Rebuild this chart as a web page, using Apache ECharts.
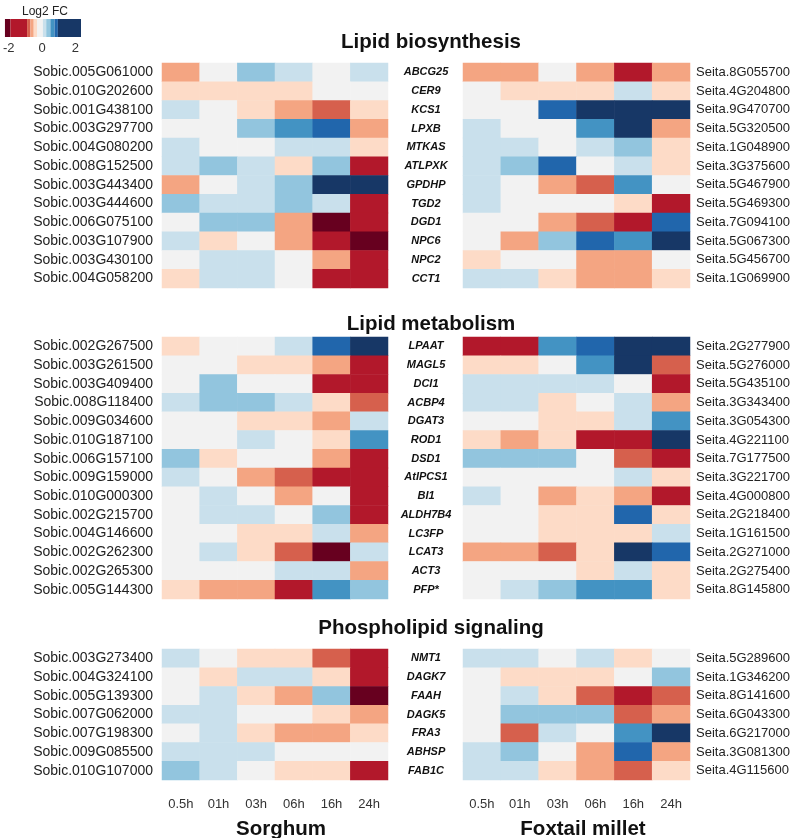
<!DOCTYPE html>
<html>
<head>
<meta charset="utf-8">
<script src="https://cdn.jsdelivr.net/npm/echarts@6/dist/echarts.min.js"></script>
<style>
  html, body { margin: 0; padding: 0; background: #fff; }
  #main { width: 800px; height: 838px; }
</style>
</head>
<body>
<div id="main"></div>
<script>
// time points
var times = ['0.5h', '01h', '03h', '06h', '16h', '24h'];

// Lipid biosynthesis
var bioSobic = ['Sobic.005G061000', 'Sobic.010G202600', 'Sobic.001G438100', 'Sobic.003G297700', 'Sobic.004G080200', 'Sobic.008G152500',
  'Sobic.003G443400', 'Sobic.003G444600', 'Sobic.006G075100', 'Sobic.003G107900', 'Sobic.003G430100', 'Sobic.004G058200'];
var bioGenes = ['ABCG25', 'CER9', 'KCS1', 'LPXB', 'MTKAS', 'ATLPXK', 'GPDHP', 'TGD2', 'DGD1', 'NPC6', 'NPC2', 'CCT1'];
var bioSeita = ['Seita.8G055700', 'Seita.4G204800', 'Seita.9G470700', 'Seita.5G320500', 'Seita.1G048900', 'Seita.3G375600',
  'Seita.5G467900', 'Seita.5G469300', 'Seita.7G094100', 'Seita.5G067300', 'Seita.5G456700', 'Seita.1G069900'];
var bioSorghum = [
  [-0.6, 0, 0.4, 0.15, 0, 0.15],
  [-0.4, -0.4, -0.4, -0.4, 0, 0],
  [0.15, 0, -0.4, -0.6, -0.8, -0.4],
  [0, 0, 0.4, 0.6, 0.85, -0.6],
  [0.15, 0, 0, 0.15, 0.15, -0.4],
  [0.15, 0.4, 0.15, -0.4, 0.4, -1.4],
  [-0.6, 0, 0.15, 0.4, 1.6, 1.6],
  [0.4, 0.15, 0.15, 0.4, 0.15, -1.4],
  [0, 0.4, 0.4, -0.6, -2.1, -1.4],
  [0.15, -0.4, 0, -0.6, -1.4, -2.1],
  [0, 0.15, 0.15, 0, -0.6, -1.4],
  [-0.4, 0.15, 0.15, 0, -1.4, -1.4]
];
var bioMillet = [
  [-0.6, -0.6, 0, -0.6, -1.4, -0.6],
  [0, -0.4, -0.4, -0.4, 0.15, -0.4],
  [0, 0, 0.85, 1.6, 1.6, 1.6],
  [0.15, 0, 0, 0.6, 1.6, -0.6],
  [0.15, 0.15, 0, 0.15, 0.4, -0.4],
  [0.15, 0.4, 0.85, 0, 0.15, -0.4],
  [0.15, 0, -0.6, -0.8, 0.6, 0],
  [0.15, 0, 0, 0, -0.4, -1.4],
  [0, 0, -0.6, -0.8, -1.4, 0.85],
  [0, -0.6, 0.4, 0.85, 0.6, 1.6],
  [-0.4, 0, 0, -0.6, -0.6, 0],
  [0.15, 0.15, -0.4, -0.6, -0.6, -0.4]
];

// Lipid metabolism
var metSobic = ['Sobic.002G267500', 'Sobic.003G261500', 'Sobic.003G409400', 'Sobic.008G118400', 'Sobic.009G034600', 'Sobic.010G187100',
  'Sobic.006G157100', 'Sobic.009G159000', 'Sobic.010G000300', 'Sobic.002G215700', 'Sobic.004G146600', 'Sobic.002G262300',
  'Sobic.002G265300', 'Sobic.005G144300'];
var metGenes = ['LPAAT', 'MAGL5', 'DCI1', 'ACBP4', 'DGAT3', 'ROD1', 'DSD1', 'AtIPCS1', 'BI1', 'ALDH7B4', 'LC3FP', 'LCAT3', 'ACT3', 'PFP*'];
var metSeita = ['Seita.2G277900', 'Seita.5G276000', 'Seita.5G435100', 'Seita.3G343400', 'Seita.3G054300', 'Seita.4G221100',
  'Seita.7G177500', 'Seita.3G221700', 'Seita.4G000800', 'Seita.2G218400', 'Seita.1G161500', 'Seita.2G271000',
  'Seita.2G275400', 'Seita.8G145800'];
var metSorghum = [
  [-0.4, 0, 0, 0.15, 0.85, 1.6],
  [0, 0, -0.4, -0.4, -0.6, -1.4],
  [0, 0.4, 0, 0, -1.4, -1.4],
  [0.15, 0.4, 0.4, 0.15, -0.4, -0.8],
  [0, 0, -0.4, -0.4, -0.6, 0.15],
  [0, 0, 0.15, 0, -0.4, 0.6],
  [0.4, -0.4, 0, 0, -0.6, -1.4],
  [0.15, 0, -0.6, -0.8, -1.4, -1.4],
  [0, 0.15, 0, -0.6, 0, -1.4],
  [0, 0.15, 0.15, 0, 0.4, -1.4],
  [0, 0, -0.4, -0.4, 0.15, -0.6],
  [0, 0.15, -0.4, -0.8, -2.1, 0.15],
  [0, 0, 0, 0.15, 0.15, -0.6],
  [-0.4, -0.6, -0.6, -1.4, 0.6, 0.4]
];
var metMillet = [
  [-1.4, -1.4, 0.6, 0.85, 1.6, 1.6],
  [-0.4, -0.4, 0, 0.6, 1.6, -0.8],
  [0.15, 0.15, 0.15, 0.15, 0, -1.4],
  [0.15, 0.15, -0.4, 0, 0.15, -0.6],
  [0, 0, -0.4, -0.4, 0.15, 0.6],
  [-0.4, -0.6, -0.4, -1.4, -1.4, 1.6],
  [0.4, 0.4, 0.4, 0, -0.8, -1.4],
  [0, 0, 0, 0, 0.15, -0.4],
  [0.15, 0, -0.6, -0.4, -0.6, -1.4],
  [0, 0, -0.4, -0.4, 0.85, -0.4],
  [0, 0, -0.4, -0.4, -0.4, 0.15],
  [-0.6, -0.6, -0.8, -0.4, 1.6, 0.85],
  [0, 0, 0, -0.4, 0.15, -0.4],
  [0, 0.15, 0.4, 0.6, 0.6, -0.4]
];

// Phospholipid signaling
var phosSobic = ['Sobic.003G273400', 'Sobic.004G324100', 'Sobic.005G139300', 'Sobic.007G062000', 'Sobic.007G198300',
  'Sobic.009G085500', 'Sobic.010G107000'];
var phosGenes = ['NMT1', 'DAGK7', 'FAAH', 'DAGK5', 'FRA3', 'ABHSP', 'FAB1C'];
var phosSeita = ['Seita.5G289600', 'Seita.1G346200', 'Seita.8G141600', 'Seita.6G043300', 'Seita.6G217000',
  'Seita.3G081300', 'Seita.4G115600'];
var phosSorghum = [
  [0.15, 0, -0.4, -0.4, -0.8, -1.4],
  [0, -0.4, 0.15, 0.15, -0.4, -1.4],
  [0, 0.15, -0.4, -0.6, 0.4, -2.1],
  [0.15, 0.15, 0, 0, -0.4, -0.6],
  [0, 0.15, -0.4, -0.6, -0.6, -0.4],
  [0.15, 0.15, 0.15, 0, 0, 0],
  [0.4, 0.15, 0, -0.4, -0.4, -1.4]
];
var phosMillet = [
  [0.15, 0.15, 0, 0.15, -0.4, 0],
  [0, -0.4, -0.4, -0.4, 0, 0.4],
  [0, 0.15, -0.4, -0.8, -1.4, -0.8],
  [0, 0.4, 0.4, 0.4, -0.8, -0.6],
  [0, -0.8, 0.15, 0, 0.6, 1.6],
  [0.15, 0.4, 0, -0.6, 0.85, -0.6],
  [0.15, 0.15, -0.4, -0.6, -0.8, -0.4]
];

// colour bins (log2 FC)
var binBreaks = [-1.9, -0.9, -0.7, -0.5, -0.3, 0.05, 0.25, 0.5, 0.75, 0.95];
var binColors = ['#67001f', '#b2182b', '#d6604d', '#f4a582', '#fddbc7', '#f2f2f2',
  '#c9e0ec', '#92c5de', '#4393c3', '#2166ac', '#173766'];
var legendMin = -2.23, legendMax = 2.34;

function toCells(m) {
  var out = [];
  m.forEach(function (row, r) {
    row.forEach(function (v, c) { out.push([c, r, v]); });
  });
  return out;
}

var pieces = [];
for (var i = 0; i < binColors.length; i++) {
  var p = { color: binColors[i] };
  if (i > 0) p.gte = binBreaks[i - 1];
  if (i < binBreaks.length) p.lt = binBreaks[i];
  pieces.push(p);
}

var legendBands = [];
for (var j = 0; j < binColors.length; j++) {
  legendBands.push([j === 0 ? legendMin : binBreaks[j - 1], j === binBreaks.length ? legendMax : binBreaks[j]]);
}

var font = 'Liberation Sans, Arial, sans-serif';
var L = 162, R = 463, W = 227;

var grids = [
  { left: L, top: 63, width: W - 1, height: 225 },
  { left: R, top: 63, width: W, height: 225 },
  { left: L, top: 337, width: W - 1, height: 262 },
  { left: R, top: 337, width: W, height: 262 },
  { left: L, top: 649, width: W - 1, height: 131 },
  { left: R, top: 649, width: W, height: 131 },
  { left: 1, top: 19, width: 80, height: 18 }
];

function timeAxis(g, show) {
  return {
    type: 'category', gridIndex: g, data: times,
    axisLine: { show: false }, axisTick: { show: false },
    axisLabel: { show: show, fontSize: 13, color: '#333', margin: 18, fontFamily: font }
  };
}

function rowAxis(g, names, pos, style) {
  var a = {
    type: 'category', gridIndex: g, data: names, inverse: true, position: pos,
    axisLine: { show: false }, axisTick: { show: false },
    axisLabel: { fontSize: 14, color: '#222', margin: 9, fontFamily: font, interval: 0 }
  };
  if (style === 'gene') {
    a.axisLabel = { fontSize: 11, color: '#111', fontStyle: 'italic', fontWeight: 'bold',
      align: 'center', margin: 37, fontFamily: font, interval: 0 };
  }
  if (pos === 'right') {
    a.axisLabel.fontSize = 13;
    a.axisLabel.margin = 6;
  }
  return a;
}

var xAxes = [timeAxis(0, false), timeAxis(1, false), timeAxis(2, false), timeAxis(3, false), timeAxis(4, true), timeAxis(5, true),
  {
    type: 'value', gridIndex: 6, min: legendMin, max: legendMax,
    axisLine: { show: false }, splitLine: { show: false },
    axisTick: { show: true, inside: true, length: 3, customValues: [-2, -1, 0, 1, 2], lineStyle: { color: '#fff' } },
    axisLabel: { customValues: [-2, 0, 2], fontSize: 13, color: '#333', margin: 5, fontFamily: font }
  }];

var yAxes = [
  rowAxis(0, bioSobic, 'left'), rowAxis(1, bioSeita, 'right'), rowAxis(1, bioGenes, 'left', 'gene'),
  rowAxis(2, metSobic, 'left'), rowAxis(3, metSeita, 'right'), rowAxis(3, metGenes, 'left', 'gene'),
  rowAxis(4, phosSobic, 'left'), rowAxis(5, phosSeita, 'right'), rowAxis(5, phosGenes, 'left', 'gene'),
  { type: 'value', gridIndex: 6, min: 0, max: 1, show: false }
];

function heat(x, y, m) {
  return {
    type: 'heatmap', xAxisIndex: x, yAxisIndex: y, data: toCells(m),
    itemStyle: { borderWidth: 0 }, emphasis: { disabled: true }
  };
}

var titleStyle = { fontSize: 20.5, fontWeight: 'bold', color: '#111', fontFamily: font };

var option = {
  animation: false,
  title: [
    { text: 'Lipid biosynthesis', left: 426, top: 27, textAlign: 'center', textStyle: titleStyle },
    { text: 'Lipid metabolism', left: 426, top: 309, textAlign: 'center', textStyle: titleStyle },
    { text: 'Phospholipid signaling', left: 426, top: 613, textAlign: 'center', textStyle: titleStyle },
    { text: 'Sorghum', left: 276, top: 814, textAlign: 'center', textStyle: titleStyle },
    { text: 'Foxtail millet', left: 578, top: 814, textAlign: 'center', textStyle: titleStyle },
    { text: 'Log2 FC', left: 40, top: 1, textAlign: 'center',
      textStyle: { fontSize: 12, fontWeight: 'normal', color: '#222', fontFamily: font } }
  ],
  grid: grids,
  xAxis: xAxes,
  yAxis: yAxes,
  visualMap: {
    type: 'piecewise', show: false, seriesIndex: [0, 1, 2, 3, 4, 5],
    dimension: 2, pieces: pieces
  },
  series: [
    heat(0, 0, bioSorghum), heat(1, 1, bioMillet),
    heat(2, 3, metSorghum), heat(3, 4, metMillet),
    heat(4, 6, phosSorghum), heat(5, 7, phosMillet),
    {
      type: 'custom', xAxisIndex: 6, yAxisIndex: 9, data: legendBands, silent: true,
      renderItem: function (params, api) {
        var a = api.coord([api.value(0), 1]);
        var b = api.coord([api.value(1), 0]);
        return {
          type: 'rect',
          shape: { x: a[0], y: a[1], width: b[0] - a[0], height: b[1] - a[1] },
          style: { fill: binColors[params.dataIndex] }
        };
      }
    }
  ]
};

var chart = echarts.init(document.getElementById('main'));
chart.setOption(option);
</script>
</body>
</html>
